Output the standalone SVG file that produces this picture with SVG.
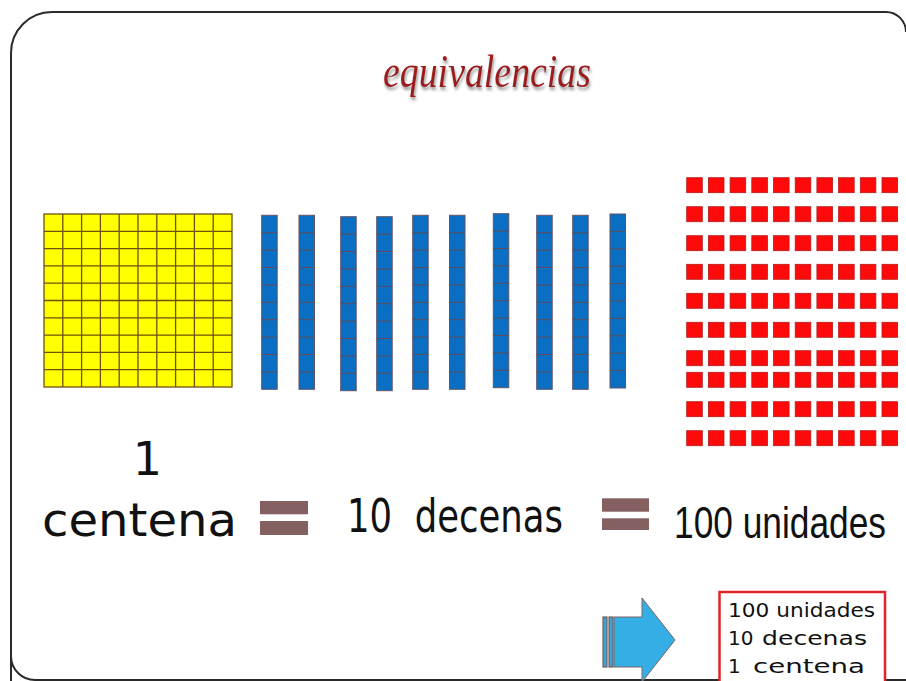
<svg xmlns="http://www.w3.org/2000/svg" xmlns:xlink="http://www.w3.org/1999/xlink" width="906" height="681" viewBox="0 0 906 681">
<style>
.hand{font-family:"DejaVu Sans","Liberation Sans",sans-serif;fill:#111}
.eq{fill:#846060}
.ycell{fill:none;stroke:#6e5010;stroke-width:1.3}
.rod{fill:#0a6fc2;stroke:#5e5468;stroke-width:1}
.rseg{stroke:#5e4a5a;stroke-width:1}
.red{fill:#ff0a0a;stroke:#b31a1a;stroke-width:0.8}
</style>
<defs>
<filter id="sh" x="-10%" y="-30%" width="120%" height="170%">
<feDropShadow dx="1" dy="3" stdDeviation="1.6" flood-color="#777" flood-opacity="0.8"/>
</filter>
<g id="rodshape">
<rect class="rod" x="0" y="0" width="15.5" height="174"/>
<path class="rseg" d="M0,17.4H15.5M0,34.8H15.5M0,52.2H15.5M0,69.6H15.5M0,87H15.5M0,104.4H15.5M0,121.8H15.5M0,139.2H15.5M0,156.6H15.5"/>
</g>
<g id="redrow">
<rect class="red" x="686.7" y="0" width="15.6" height="15"/>
<rect class="red" x="708.4" y="0" width="15.6" height="15"/>
<rect class="red" x="730.1" y="0" width="15.6" height="15"/>
<rect class="red" x="751.8" y="0" width="15.6" height="15"/>
<rect class="red" x="773.5" y="0" width="15.6" height="15"/>
<rect class="red" x="795.2" y="0" width="15.6" height="15"/>
<rect class="red" x="816.9" y="0" width="15.6" height="15"/>
<rect class="red" x="838.6" y="0" width="15.6" height="15"/>
<rect class="red" x="860.3" y="0" width="15.6" height="15"/>
<rect class="red" x="882" y="0" width="15.6" height="15"/>
</g>
</defs>
<rect width="906" height="681" fill="#fff"/>
<path id="slide-border" d="M11,681 L11,53 A41,41 0 0 1 52,12 L886,12 A20,20 0 0 1 906,32 M11,656 A24,24 0 0 0 35,680 L906,680" fill="none" stroke="#2a2a2a" stroke-width="2"/>

<g id="title">
<text x="487" y="87" text-anchor="middle" font-family="Liberation Serif, serif" font-style="italic" font-size="47" fill="#9a1a1e" filter="url(#sh)" textLength="208" lengthAdjust="spacingAndGlyphs">equivalencias</text>
</g>

<g id="centena-block">
<rect x="44" y="214" width="188" height="173" fill="#ffff00"/>
<path class="ycell" d="M62.8,214V387M81.6,214V387M100.4,214V387M119.2,214V387M138,214V387M156.8,214V387M175.6,214V387M194.4,214V387M213.2,214V387M44,231.3H232M44,248.6H232M44,265.9H232M44,283.2H232M44,300.5H232M44,317.8H232M44,335.1H232M44,352.4H232M44,369.7H232"/>
<rect class="ycell" x="44" y="214" width="188" height="173"/>
</g>

<g id="decenas-rods">
<use xlink:href="#rodshape" x="261.7" y="215.3"/>
<use xlink:href="#rodshape" x="299" y="215.3"/>
<use xlink:href="#rodshape" x="340.7" y="216.7"/>
<use xlink:href="#rodshape" x="376.7" y="216.7"/>
<use xlink:href="#rodshape" x="412.7" y="215.3"/>
<use xlink:href="#rodshape" x="449.5" y="215.3"/>
<use xlink:href="#rodshape" x="493.3" y="213.7"/>
<use xlink:href="#rodshape" x="536.7" y="215.3"/>
<use xlink:href="#rodshape" x="572.7" y="215.3"/>
<use xlink:href="#rodshape" x="610" y="214"/>
</g>

<g id="unidades-squares">
<use xlink:href="#redrow" y="177.7"/>
<use xlink:href="#redrow" y="206.7"/>
<use xlink:href="#redrow" y="235.7"/>
<use xlink:href="#redrow" y="264.3"/>
<use xlink:href="#redrow" y="293.3"/>
<use xlink:href="#redrow" y="322.3"/>
<use xlink:href="#redrow" y="350.7"/>
<use xlink:href="#redrow" y="372.3"/>
<use xlink:href="#redrow" y="401.7"/>
<use xlink:href="#redrow" y="430.7"/>
</g>

<g id="equation">
<text class="hand" x="147.5" y="475" text-anchor="middle" font-size="46">1</text>
<text class="hand" x="42" y="536" font-size="46" textLength="195" lengthAdjust="spacingAndGlyphs">centena</text>
<rect class="eq" x="260" y="501" width="48" height="13.3"/>
<rect class="eq" x="260" y="521" width="48" height="14"/>
<text class="hand" x="347" y="531.5" font-size="46" textLength="216" lengthAdjust="spacingAndGlyphs" xml:space="preserve">10  decenas</text>
<rect class="eq" x="602" y="498.3" width="47" height="13.4"/>
<rect class="eq" x="602" y="518.3" width="47" height="11.7"/>
<text transform="translate(674,538) scale(1,1.25)" x="0" y="0" font-family="Liberation Sans, sans-serif" fill="#111" font-size="35" textLength="212" lengthAdjust="spacingAndGlyphs">100 unidades</text>
</g>

<g id="arrow">
<rect x="603" y="617" width="4" height="50" fill="#3aa3d8" stroke="#7a5a5a" stroke-width="1.2"/>
<rect x="609" y="617" width="4" height="50" fill="#3aa3d8" stroke="#7a5a5a" stroke-width="1.2"/>
<polygon points="614,617 642,617 642,598 675,640 642,682 642,667 614,667" fill="#35aee6" stroke="#7a6262" stroke-width="1"/>
</g>

<g id="summary-box">
<rect x="719.5" y="592" width="165.5" height="100" fill="#fff" stroke="#e0242a" stroke-width="2.5"/>
<text class="hand" x="728" y="616.5" font-size="20" textLength="147" lengthAdjust="spacingAndGlyphs">100 unidades</text>
<text class="hand" x="728" y="645" font-size="20">10</text>
<text class="hand" x="762" y="645" font-size="20" textLength="105" lengthAdjust="spacingAndGlyphs">decenas</text>
<text class="hand" x="728" y="673" font-size="20">1</text>
<text class="hand" x="753" y="673" font-size="20" textLength="112" lengthAdjust="spacingAndGlyphs">centena</text>
</g>
</svg>
